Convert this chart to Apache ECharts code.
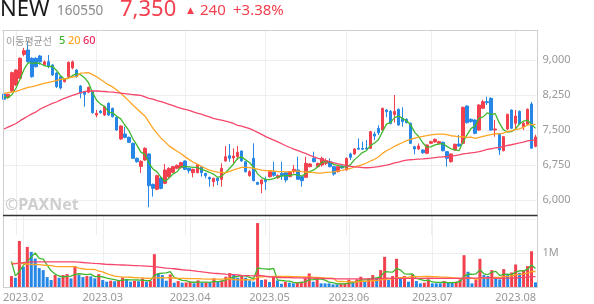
<!DOCTYPE html>
<html><head><meta charset="utf-8">
<script src="https://cdn.jsdelivr.net/npm/echarts@6/dist/echarts.min.js"></script>
<style>html,body{margin:0;padding:0;background:#fff}#c{width:594px;height:304px}</style>
</head><body><div id="c"></div>
<script>
// ---------- data ----------
const firstDay = '2023-01-27';
const holidays = ['2023-03-01','2023-05-01','2023-05-05','2023-05-29','2023-06-06'];
const dayCount = 133;

// [open, close, low, high]
const candles = [
[8271,8157,8122,8286],[8200,8265,8170,8280],[8336,8729,8300,8750],[8464,8786,8440,8800],[8607,9036,8590,9060],
[9120,9200,9080,9260],[9214,8964,8950,9393],[9036,8643,8620,9060],[9036,8857,8840,9060],[9086,8960,8900,9110],
[8900,8960,8880,8990],[8964,8872,8822,9107],[8893,8679,8660,8910],[8720,8430,8400,8740],[8640,8400,8370,8660],
[8536,8586,8520,8600],[8640,8950,8620,8970],[8830,8960,8800,8990],[8786,8643,8620,8800],[8443,8286,8179,8460],
[8322,8264,8000,8340],[8307,8414,8290,8430],[8322,7871,7850,8340],[7821,7857,7772,7929],[7907,7871,7850,7930],
[7821,8000,7800,8020],[8072,7821,7800,8090],[7964,7786,7770,7980],[7772,7500,7480,7790],[7307,7586,7290,7600],
[7414,7343,7320,7571],[7343,7236,7220,7360],[7214,6893,6880,7230],[6893,6821,6800,6910],[6720,6830,6580,6850],
[6857,7107,6840,7130],[6986,6307,5843,7000],[6336,6250,6071,6350],[6229,6521,6210,6540],[6472,6250,6230,6490],
[6357,6643,6340,6772],[6500,6679,6480,6700],[6593,6714,6580,6730],[6679,6743,6660,6760],[6693,6800,6680,6820],
[6836,6657,6640,6850],[6679,6629,6571,6690],[6586,6657,6486,6670],[6586,6757,6570,6770],[6714,6586,6500,6730],
[6571,6521,6464,6580],[6486,6450,6286,6500],[6393,6464,6286,6480],[6464,6414,6322,6475],[6443,6679,6286,6786],
[6836,6929,6821,7157],[6950,6893,6821,7200],[6900,6943,6786,7107],[6929,7021,6857,7157],[7050,6836,6820,7060],
[6821,6607,6590,6830],[6521,6607,6500,6643],[6893,6414,6400,7214],[6379,6336,6320,6390],[6343,6429,6143,6440],
[6443,6393,6214,6500],[6500,6607,6480,6643],[6593,6529,6500,6821],[6479,6521,6450,6550],[6571,6521,6429,6821],
[6586,6429,6379,6600],[6500,6607,6490,6620],[6607,6657,6571,6750],[6643,6443,6430,6929],[6500,6414,6286,6510],
[6486,6786,6470,6929],[6714,6772,6700,6790],[6893,6821,6807,7036],[6714,6786,6700,6800],[6750,6893,6714,6929],
[6786,6843,6750,6893],[6821,6714,6700,6893],[6714,6557,6521,6730],[6607,6714,6590,6730],[6729,6686,6670,6740],
[6643,6893,6630,6910],[6986,6914,6857,7014],[6986,7093,6970,7110],[7110,7090,7070,7320],[7107,7090,7071,7250],
[7114,7093,7071,7286],[7107,7464,7090,7480],[7414,7371,7286,7464],[7536,7440,7393,7600],[7500,7964,7480,7980],
[7929,7893,7772,7943],[7900,7640,7620,7930],[7830,7900,7660,8250],[7943,7607,7590,7960],[7750,7679,7571,7986],
[7729,7657,7640,7750],[7643,7214,7200,7660],[7143,7093,6979,7160],[7093,7157,7071,7214],[7071,7014,6986,7085],
[7000,7179,6980,7190],[7214,7250,7200,7270],[7243,7300,7230,7320],[7214,7250,7200,7270],[7236,7057,7040,7250],
[7036,6893,6714,7050],[6821,6986,6800,7000],[7071,7193,7057,7210],[7200,7157,7143,7393],[7214,7986,7200,8000],
[8014,7657,7640,8030],[7729,7679,7660,7750],[7714,7429,7410,7730],[7500,8036,7480,8050],[7964,8107,7950,8150],
[8107,8086,8036,8214],[8179,7500,7480,8200],[7500,7522,7357,7714],[7414,7071,6964,7430],[7057,7357,7040,7370],
[7522,7836,7500,7850],[7929,7536,7520,7940],[7643,7800,7536,7929],[7900,7629,7610,7920],[7571,7643,7500,7679],
[7622,7943,7600,7960],[8057,7110,7100,8100],[7150,7350,7130,7400]
];

// volume in thousands of shares
const volumesK = [
323,274,1362,598,1186,1039,843,559,500,294,206,353,274,353,382,255,617,353,294,323,
314,255,382,206,157,186,170,206,284,235,157,186,170,255,157,176,970,402,353,186,
372,127,176,127,135,157,108,196,127,135,130,255,157,196,304,412,372,274,323,274,
196,157,1891,206,225,147,294,196,98,157,127,108,127,157,255,402,157,235,108,108,
108,78,78,98,108,216,157,225,304,157,255,353,274,500,892,206,323,833,255,323,
157,372,176,108,127,225,108,108,108,176,127,127,157,225,941,451,108,206,833,353,
323,500,300,225,529,353,431,666,421,500,617,1058,137
];

// moving-average values at the start of the window (they depend on days before it)
const ma5Early  = [8214,8190,8260,8400];
const ma20Early = [8286,8300,8314,8329,8357,8386,8414,8429,8450,8479,8500,8522,8536,8557,8586,8593,8614,8636,8643];
const ma60Early = [7521,7560,7600,7640,7700,7750,7800,7850,7890,7950,7990,8030,8070,8100,8140,8180,8210,8240,8270,8300,
                   8320,8336,8336,8336,8330,8325,8315,8310,8300,8290,8280,8270,8260,8250,8240,8210,8180,8160,8130,8107,
                   8080,8050,8020,7990,7964,7940,7920,7890,7860,7840,7810,7780,7750,7730,7710,7690,7670,7640,7600];
const vMa5EarlyK  = [760,330,460,640];
const vMa20EarlyK = [700,700,690,690,680,670,665,660,650,640,630,610,600,600,600,600,600,560,540];
const vMa60EarlyK = [676,690,705,720,735,745,745,745,745,745,745,745,745,745,745,745,745,735,725,715,
                     705,696,690,680,670,665,660,655,650,645,640,635,630,627,620,610,600,590,575,560,
                     549,540,525,510,500,490,475,460,450,435,420,405,400,390,380,372,365,355,345];

const priceTicks = {min: 5250, max: 9642.86, step: 750};
const volTicks = {min: 0, max: 2100000, step: 1000000};

// ---------- build ----------
function tradingDays() {
  const out = []; const d = new Date(firstDay + 'T00:00:00Z');
  while (out.length < dayCount) {
    const w = d.getUTCDay(); const s = d.toISOString().slice(0, 10);
    if (w !== 0 && w !== 6 && holidays.indexOf(s) < 0) out.push(s);
    d.setUTCDate(d.getUTCDate() + 1);
  }
  return out;
}
const dates = tradingDays();
const volumes = volumesK.map(v => v * 1000);
const closes = candles.map(c => c[1]);
function movingAvg(vals, n, early) {
  return vals.map((v, i) => {
    if (i < n - 1) return early[i];
    let s = 0; for (let j = i - n + 1; j <= i; j++) s += vals[j];
    return Math.round(s / n);
  });
}
const ma5 = movingAvg(closes, 5, ma5Early);
const ma20 = movingAvg(closes, 20, ma20Early);
const ma60 = movingAvg(closes, 60, ma60Early);
const vma5 = movingAvg(volumes, 5, vMa5EarlyK.map(v => v * 1000));
const vma20 = movingAvg(volumes, 20, vMa20EarlyK.map(v => v * 1000));
const vma60 = movingAvg(volumes, 60, vMa60EarlyK.map(v => v * 1000));

const monthStart = (i) => i > 0 && dates[i].slice(0, 7) !== dates[i - 1].slice(0, 7);

const RED = '#f2404f', BLUE = '#2787e6';
const C5 = '#3fb82e', C20 = '#ffa423', C60 = '#f5466b';
const GRIDC = '#eeeeee';
const FONT = '"Noto Sans", sans-serif';

const L = 4, R = 58.5;
const chart = echarts.init(document.getElementById('c'), null, {renderer: 'canvas'});

const lineS = (name, data, color, xi, yi) => ({
  name, type: 'line', data, xAxisIndex: xi, yAxisIndex: yi, showSymbol: false, symbol: 'none',
  lineStyle: {color, width: 1.3}, itemStyle: {color}, silent: true, z: 3, clip: false
});

chart.setOption({
  animation: false,
  textStyle: {fontFamily: FONT},
  grid: [
    {left: L, right: R, top: 30, height: 205},
    {left: L, right: R, top: 216, height: 71}
  ],
  xAxis: [
    {type: 'category', gridIndex: 0, data: dates, boundaryGap: false,
     axisLine: {show: false}, axisTick: {show: false}, axisLabel: {show: false},
     splitLine: {show: true, interval: monthStart, lineStyle: {color: GRIDC, width: 1}}},
    {type: 'category', gridIndex: 1, data: dates, boundaryGap: false,
     axisLine: {show: false}, axisTick: {show: false},
     axisLabel: {interval: monthStart, color: '#999', fontSize: 11, margin: 5, fontFamily: FONT,
                 formatter: v => v.slice(0, 4) + '.' + v.slice(5, 7)},
     splitLine: {show: true, interval: monthStart, lineStyle: {color: GRIDC, width: 1}}}
  ],
  yAxis: [
    {type: 'value', gridIndex: 0, position: 'right', min: priceTicks.min, max: priceTicks.max, interval: priceTicks.step,
     axisLine: {show: false}, axisTick: {show: false},
     axisLabel: {color: '#999', fontSize: 11, margin: 7, fontFamily: FONT, showMinLabel: false, showMaxLabel: false,
                 formatter: v => Math.round(v).toLocaleString('en-US')},
     splitLine: {show: true, showMinLine: false, showMaxLine: false, lineStyle: {color: GRIDC, width: 1}}},
    {type: 'value', gridIndex: 1, position: 'right', min: volTicks.min, max: volTicks.max, interval: volTicks.step,
     axisLine: {show: false}, axisTick: {show: false},
     axisLabel: {color: '#999', fontSize: 11, margin: 7, fontFamily: FONT, showMaxLabel: false,
                 formatter: v => v === 1000000 ? '1M' : ''},
     splitLine: {show: true, showMaxLine: false, lineStyle: {color: GRIDC, width: 1}}}
  ],
  series: [
    {type: 'candlestick', xAxisIndex: 0, yAxisIndex: 0, data: candles, barWidth: 3, clip: false,
     itemStyle: {color: RED, color0: BLUE, borderColor: RED, borderColor0: BLUE, borderWidth: 1}, silent: true},
    lineS('ma5', ma5, C5, 0, 0),
    lineS('ma20', ma20, C20, 0, 0),
    lineS('ma60', ma60, C60, 0, 0),
    {type: 'bar', xAxisIndex: 1, yAxisIndex: 1, data: volumes, barWidth: 3, silent: true,
     itemStyle: {color: p => (p.dataIndex === 0 || volumes[p.dataIndex] > volumes[p.dataIndex - 1]) ? RED : BLUE}},
    lineS('vma5', vma5, C5, 1, 1),
    lineS('vma20', vma20, C20, 1, 1),
    lineS('vma60', vma60, C60, 1, 1)
  ],
  graphic: [
    {type: 'line', shape: {x1: 2, y1: 30.5, x2: 537.5, y2: 30.5}, style: {stroke: '#cfcfcf', lineWidth: 1}, z: 100},
    {type: 'line', shape: {x1: 3.5, y1: 30, x2: 3.5, y2: 288}, style: {stroke: '#cfcfcf', lineWidth: 1}, z: 100},
    {type: 'line', shape: {x1: 537.5, y1: 30, x2: 537.5, y2: 288}, style: {stroke: '#cfcfcf', lineWidth: 1}, z: 100},
    {type: 'line', shape: {x1: 3, y1: 215.5, x2: 537.5, y2: 215.5}, style: {stroke: '#333', lineWidth: 1.5}, z: 100},
    {type: 'line', shape: {x1: 3, y1: 287.5, x2: 537.5, y2: 287.5}, style: {stroke: '#cfcfcf', lineWidth: 1}, z: 100},
    {type: 'text', x: 0, y: 10, style: {text: 'NEW', font: '22px "Noto Sans"', fill: '#1a1a1a', verticalAlign: 'middle'}, z: 100},
    {type: 'text', x: 57, y: 11, style: {text: '160550', font: '13.5px "Noto Sans"', fill: '#8a8a8a', verticalAlign: 'middle'}, z: 100},
    {type: 'text', x: 120, y: 10, style: {text: '7,350', font: '22px "Noto Sans"', fill: RED, verticalAlign: 'middle'}, z: 100},
    {type: 'text', x: 187, y: 11, style: {text: '▲', font: '9px "DejaVu Sans"', fill: RED, verticalAlign: 'middle'}, z: 100},
    {type: 'text', x: 200, y: 11, style: {text: '240', font: '15px "Noto Sans"', fill: RED, verticalAlign: 'middle'}, z: 100},
    {type: 'text', x: 233, y: 11, style: {text: '+3.38%', font: '15px "Noto Sans"', fill: RED, verticalAlign: 'middle'}, z: 100},
    {type: 'text', x: 6, y: 41, style: {text: '이동평균선', font: '10px "Noto Sans CJK KR"', fill: '#999', verticalAlign: 'middle'}, z: 100},
    {type: 'text', x: 59, y: 41, style: {text: '5', font: '500 11px "Noto Sans"', fill: C5, verticalAlign: 'middle'}, z: 100},
    {type: 'text', x: 68, y: 41, style: {text: '20', font: '500 11px "Noto Sans"', fill: C20, verticalAlign: 'middle'}, z: 100},
    {type: 'text', x: 83, y: 41, style: {text: '60', font: '500 11px "Noto Sans"', fill: '#ee2a5e', verticalAlign: 'middle'}, z: 100},
    {type: 'text', x: 5, y: 205, style: {text: '©PAXNet', font: 'bold 16px "Noto Sans"', fill: '#cfcfcf', verticalAlign: 'middle'}, z: 1}
  ]
});
</script></body></html>
